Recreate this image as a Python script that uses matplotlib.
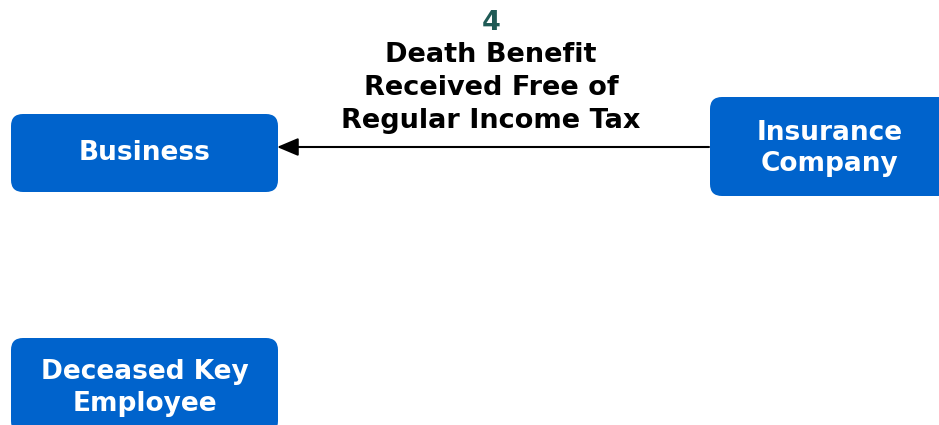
import matplotlib.pyplot as plt
import matplotlib.patches as patches

# node labels and the flow label
node_labels = ["Business", "Insurance\nCompany", "Deceased Key\nEmployee"]
step_number = "4"
step_text = "Death Benefit\nReceived Free of\nRegular Income Tax"

# layout in pixel coords (x, y, width, height), y grows downward
node_boxes = [(11, 114, 267, 78), (710, 97, 240, 99), (11, 338, 267, 95)]
text_centers = [(145, 153), (830, 148.5), (145, 388)]
BOX_COLOR = "#0063CC"

fig = plt.figure(figsize=(9.39, 4.25), dpi=100)
ax = fig.add_axes([0, 0, 1, 1])
ax.set_xlim(0, 939)
ax.set_ylim(425, 0)
ax.axis("off")

for label, (x, y, w, h), (tx, ty) in zip(node_labels, node_boxes, text_centers):
    r = 12
    ax.add_patch(patches.FancyBboxPatch((x + r, y + r), w - 2 * r, h - 2 * r,
                                        boxstyle=f"round,pad={r}",
                                        facecolor=BOX_COLOR, edgecolor="none"))
    ax.text(tx, ty, label, ha="center", va="center", color="white",
            fontsize=19, fontweight="bold", linespacing=1.29)

# arrow from insurance company to business
ax.annotate("", xy=(277, 147), xytext=(709, 147),
            arrowprops=dict(arrowstyle="-|>,head_length=1.3,head_width=0.55",
                            color="black", lw=1.5, shrinkA=0, shrinkB=0))

ax.text(491, 22.5, step_number, ha="center", va="center", color="#1F5A55",
        fontsize=19.5, fontweight="bold")
ax.text(491, 88, step_text, ha="center", va="center", color="black",
        fontsize=19.5, fontweight="bold", linespacing=1.33)

fig.savefig("out.png", dpi=100)
